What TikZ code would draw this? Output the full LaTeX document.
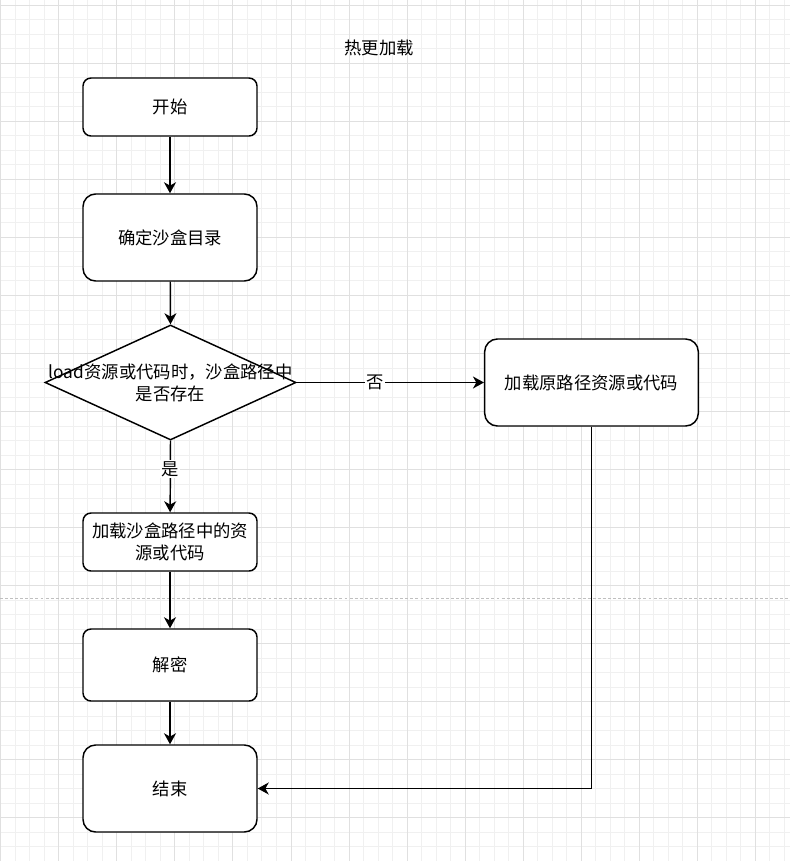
\documentclass[tikz,border=0pt]{standalone}
\usepackage{fontspec}
\setmainfont{Noto Sans CJK SC}
\usetikzlibrary{shapes.geometric,arrows.meta}

\begin{document}
\begin{tikzpicture}[
    proc/.style={rectangle, draw, line width=1.1pt, fill=white, rounded corners=6pt,
                 minimum width=130.5pt, minimum height=43.5pt, inner sep=0pt,
                 align=center, font=\fontsize{13pt}{16.5pt}\selectfont},
    bigproc/.style={proc, rounded corners=9.5pt, minimum height=65.25pt},
    decision/.style={diamond, draw, line width=1.1pt, fill=white, inner sep=0pt,
                     minimum width=188.25pt, minimum height=86.25pt},
    txt/.style={align=center, font=\fontsize{13pt}{16.5pt}\selectfont},
    flow/.style={-{Stealth[length=8.25pt, width=9pt, inset=2.5pt]}, line width=1.1pt},
    lbl/.style={fill=white, inner sep=1pt, font=\fontsize{13pt}{16.5pt}\selectfont},
    minorgrid/.style={draw=black!6, line width=0.75pt},
    majorgrid/.style={draw=black!12, line width=0.75pt},
    x=0.75pt, y=-0.75pt
]
\useasboundingbox (0,0) rectangle (790,861);
\fill[white] (0,0) rectangle (790,861);

%% Raster
\foreach \i in {0,...,54} \draw[minorgrid] ({0.8+14.51*\i},0) -- ({0.8+14.51*\i},861);
\foreach \j in {0,...,58} \draw[minorgrid] (0,{5.3+14.51*\j}) -- (790,{5.3+14.51*\j});
\foreach \i in {0,...,13} \draw[majorgrid] ({0.8+58.04*\i},0) -- ({0.8+58.04*\i},861);
\foreach \j in {0,...,14} \draw[majorgrid] (0,{5.3+58.04*\j}) -- (790,{5.3+58.04*\j});
\draw[black!25, line width=0.75pt, dash pattern=on 2.2pt off 1.6pt] (0,598) -- (790,598);

%% Titolo
\node[txt] (title) at (379,48) {热更加载};

%% Nodi
\node[proc] (start) at (170,107) {开始};
\node[bigproc] (sandbox) at (170,237.5) {确定沙盒目录};
\node[decision] (check) at (170.5,382.5) {};
\node[txt] (checktxt) at (check.center) {load资源或代码时，沙盒路径中\\是否存在};
\node[proc] (loadsb) at (170,542) {加载沙盒路径中的资\\源或代码};
\node[bigproc, minimum width=160.2pt] (loadorig) at (591.5,382.5) {加载原路径资源或代码};
\node[proc, minimum height=54pt] (decrypt) at (170,665) {解密};
\node[bigproc] (finish) at (170,788.5) {结束};

%% Frecce
\draw[flow] (start) -- (sandbox);
\draw[flow] (sandbox) -- (check.north);
\draw[flow] (check.east) -- node[lbl, pos=0.42]{否} (loadorig.west);
\draw[flow] (check.south) -- node[lbl, pos=0.4]{是} (loadsb);
\draw[flow] (loadsb) -- (decrypt);
\draw[flow] (decrypt) -- (finish);
\draw[flow] (loadorig.south) |- (finish.east);

\end{tikzpicture}
\end{document}
